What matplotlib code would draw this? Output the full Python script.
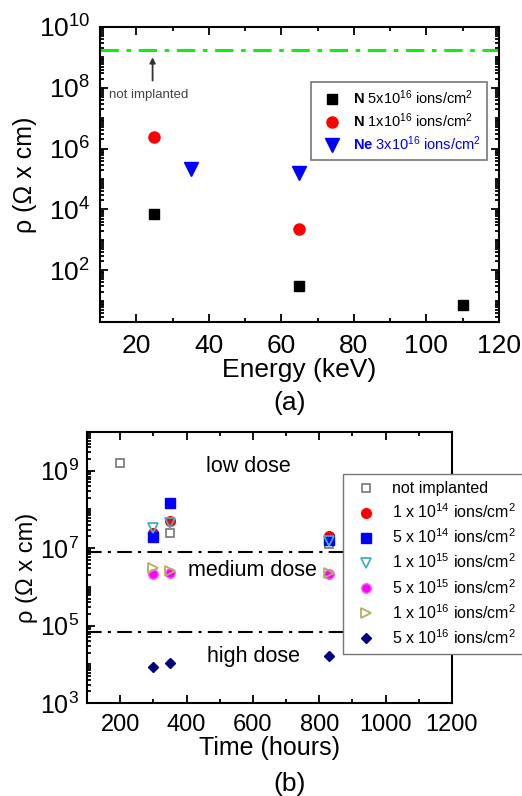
import numpy as np
import matplotlib
matplotlib.use("Agg")
from matplotlib import pyplot as plt
from matplotlib.ticker import NullFormatter, FixedLocator, MultipleLocator, FuncFormatter

plt.rcParams['font.family'] = ['Liberation Sans', 'DejaVu Sans']
plt.rcParams['mathtext.fontset'] = 'custom'
plt.rcParams['mathtext.rm'] = 'Liberation Sans'
plt.rcParams['mathtext.it'] = 'Liberation Sans:italic'
plt.rcParams['mathtext.bf'] = 'Liberation Sans:bold'

# (a) resistivity vs implantation energy
energy_n5e16 = [25, 65, 110]
rho_n5e16 = [7.2e3, 31, 7.5]
energy_n1e16 = [25, 65]
rho_n1e16 = [2.4e6, 2.2e3]
energy_ne3e16 = [35, 65]
rho_ne3e16 = [2.2e5, 1.55e5]
rho_not_implanted = 1.7e9

# (b) resistivity vs time
t_not = [200, 350, 830]
r_not = [1.6e9, 2.4e7, 1.3e7]
t_all = [300, 350, 830]
r_1e14 = [2.5e7, 4.9e7, 2.0e7]
r_5e14 = [1.9e7, 1.45e8, 1.6e7]
r_1e15 = [3.3e7, 4.4e7, 1.5e7]
r_5e15 = [2.1e6, 2.3e6, 2.2e6]
r_1e16 = [3.1e6, 2.5e6, 2.3e6]
r_5e16 = [8.7e3, 1.07e4, 1.65e4]
low_medium_limit = 8e6
medium_high_limit = 6.7e4

decade_fmt = FuncFormatter(lambda v, p: r'$10^{%d}$' % round(np.log10(v)))

fig = plt.figure(figsize=(5.22, 7.96), dpi=100)

# ---------- (a)
ax = fig.add_axes([0.1916, 0.5955, 0.764, 0.3706])
ax.set_yscale('log')
ax.axhline(rho_not_implanted, color='#11ee11', ls=(0, (6, 2.5, 1.5, 2.5)), lw=2.2)
ax.plot(energy_n5e16, rho_n5e16, 's', color='black', ms=7, ls='none',
        label=r'$\mathbf{N}$ 5x10$^{16}$ ions/cm$^2$')
ax.plot(energy_n1e16, rho_n1e16, 'o', color='red', ms=8, ls='none',
        label=r'$\mathbf{N}$ 1x10$^{16}$ ions/cm$^2$')
ax.plot(energy_ne3e16, rho_ne3e16, 'v', color='blue', ms=10.5, ls='none',
        label=r'$\mathbf{Ne}$ 3x10$^{16}$ ions/cm$^2$')
ax.annotate('', xy=(24.5, 1.25e9), xytext=(24.5, 1.4e8),
            arrowprops=dict(arrowstyle='-|>', color='#333333', lw=1.3, mutation_scale=8))
ax.text(23.5, 9e7, 'not implanted', ha='center', va='top', fontsize=9.5, color='#444444')
ax.set_xlim(10, 120)
ax.set_ylim(2, 1e10)
ax.xaxis.set_major_locator(MultipleLocator(20))
ax.xaxis.set_minor_locator(MultipleLocator(10))
ax.yaxis.set_major_locator(FixedLocator([1e2, 1e4, 1e6, 1e8, 1e10]))
ax.yaxis.set_major_formatter(decade_fmt)
ax.yaxis.set_minor_locator(FixedLocator([10.0 ** k for k in range(1, 11, 2)] +
                                        [m * 10.0 ** k for k in range(0, 10) for m in range(2, 10)]))
ax.yaxis.set_minor_formatter(NullFormatter())
ax.tick_params(which='both', direction='in', top=True, right=True, width=1.3)
ax.tick_params(which='major', length=6, labelsize=19)
ax.tick_params(axis='x', which='major', pad=9)
ax.tick_params(axis='y', which='major', pad=7)
ax.tick_params(which='minor', length=3)
for s in ax.spines.values():
    s.set_linewidth(1.5)
ax.set_xlabel('Energy (keV)', fontsize=19, labelpad=0)
ax.set_ylabel(r'ρ (Ω x cm)', fontsize=18, labelpad=1)
leg = ax.legend(loc='upper left', bbox_to_anchor=(311 / 522, 1 - 82 / 796),
                bbox_transform=fig.transFigure, fontsize=10.5, frameon=True,
                fancybox=False, edgecolor='#555555', handletextpad=0.4,
                borderaxespad=0, labelspacing=0.3, borderpad=0.45)
leg.get_frame().set_linewidth(1.2)
leg.get_texts()[2].set_color('blue')
fig.text(290 / 522, 1 - 403 / 796, '(a)', ha='center', va='center', fontsize=19)

# ---------- (b)
bx = fig.add_axes([0.1667, 0.1168, 0.699, 0.3405])
bx.set_yscale('log')
bx.axhline(low_medium_limit, color='black', ls=(0, (7, 3, 1.5, 3)), lw=1.5)
bx.axhline(medium_high_limit, color='black', ls=(0, (7, 3, 1.5, 3)), lw=1.5)
bx.plot(t_not, r_not, 's', mfc='none', mec='#808080', mew=1.3, ms=5.5, ls='none', label='not implanted')
bx.plot(t_all, r_1e14, 'o', color='red', ms=7, ls='none', label=r'1 x 10$^{14}$ ions/cm$^2$')
bx.plot(t_all, r_5e14, 's', color='blue', ms=6.5, ls='none', label=r'5 x 10$^{14}$ ions/cm$^2$')
bx.plot(t_all, r_1e15, 'v', mfc='none', mec='#40b0c0', mew=1.3, ms=7.5, ls='none', label=r'1 x 10$^{15}$ ions/cm$^2$')
bx.plot(t_all, r_5e15, 'o', color='#ff00ff', mec='#ff66ff', ms=7, ls='none', label=r'5 x 10$^{15}$ ions/cm$^2$')
bx.plot(t_all, r_1e16, '>', mfc='none', mec='#b0b060', mew=1.3, ms=7.5, ls='none', label=r'1 x 10$^{16}$ ions/cm$^2$')
bx.plot(t_all, r_5e16, 'D', color='#000080', ms=5.5, ls='none', label=r'5 x 10$^{16}$ ions/cm$^2$')
bx.text(587, 1.3e9, 'low dose', ha='center', va='center', fontsize=15.5)
bx.text(600, 2.6e6, 'medium dose', ha='center', va='center', fontsize=15.5)
bx.text(603, 1.6e4, 'high dose', ha='center', va='center', fontsize=15.5)
bx.set_xlim(100, 1200)
bx.set_ylim(1e3, 1e10)
bx.xaxis.set_major_locator(MultipleLocator(200))
bx.xaxis.set_minor_locator(MultipleLocator(100))
bx.yaxis.set_major_locator(FixedLocator([1e3, 1e5, 1e7, 1e9]))
bx.yaxis.set_major_formatter(decade_fmt)
bx.yaxis.set_minor_locator(FixedLocator([10.0 ** k for k in range(4, 11, 2)] +
                                        [m * 10.0 ** k for k in range(3, 10) for m in range(2, 10)]))
bx.yaxis.set_minor_formatter(NullFormatter())
bx.tick_params(which='both', direction='in', top=True, right=False, width=1.3)
bx.tick_params(which='major', length=6)
bx.tick_params(axis='x', which='major', labelsize=17, pad=8)
bx.tick_params(axis='y', which='major', labelsize=18, pad=6)
bx.tick_params(which='minor', length=3)
for s in bx.spines.values():
    s.set_linewidth(1.5)
bx.set_xlabel('Time (hours)', fontsize=18, labelpad=0)
bx.set_ylabel(r'ρ (Ω x cm)', fontsize=17, labelpad=1)
leg2 = bx.legend(loc='upper left', bbox_to_anchor=(343 / 522, 1 - 474 / 796),
                 bbox_transform=fig.transFigure, fontsize=11.5, frameon=True,
                 fancybox=False, edgecolor='#777777', handletextpad=0.6,
                 borderaxespad=0, labelspacing=0.4, borderpad=0.45, framealpha=1)
leg2.get_frame().set_linewidth(1.0)
fig.text(290 / 522, 1 - 784 / 796, '(b)', ha='center', va='center', fontsize=19)

fig.savefig('out.png', dpi=100)
